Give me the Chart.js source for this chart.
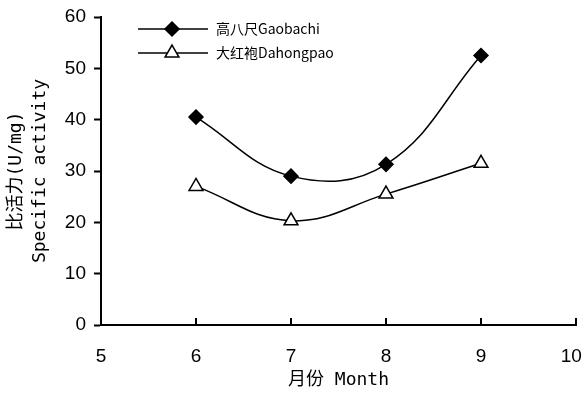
<!DOCTYPE html>
<html>
<head>
<meta charset="utf-8">
<script src="https://cdn.jsdelivr.net/npm/chart.js@4/dist/chart.umd.min.js"></script>
<style>
  html, body { margin: 0; padding: 0; background: #fff; overflow: hidden; }
  #wrap { width: 582px; height: 395px; }
</style>
</head>
<body>
<div id="wrap"><canvas id="chart"></canvas></div>
<script>
const months = [6, 7, 8, 9];
const gaobachi = [40.5, 29.0, 31.3, 52.5];
const dahongpao = [27.0, 20.3, 25.5, 31.5];
const seriesNames = ["高八尺Gaobachi", "大红袍Dahongpao"];
const xTicks = [5, 6, 7, 8, 9, 10];
const yTicks = [0, 10, 20, 30, 40, 50, 60];

const numFont = "'Liberation Sans Narrow', 'Liberation Sans', sans-serif";
const legendFont = "'Noto Sans CJK SC', 'Liberation Sans Narrow', sans-serif";
const titleFont = "'DejaVu Sans Mono', 'Noto Sans CJK SC', monospace";

function toPoints(values) {
  return months.map((m, i) => ({ x: m, y: values[i] }));
}

// inward ticks on the x axis and the little legend in the top-left corner
const extras = {
  id: "extras",
  afterDraw(chart) {
    const ctx = chart.ctx;
    const x = chart.scales.x;
    const y = chart.scales.y;
    ctx.save();
    ctx.strokeStyle = "#000";
    ctx.lineWidth = 2;
    xTicks.slice(1).forEach((v) => {
      const px = x.getPixelForValue(v);
      ctx.beginPath();
      ctx.moveTo(px, y.bottom);
      ctx.lineTo(px, y.bottom - 7);
      ctx.stroke();
    });

    chart.data.datasets.forEach((ds, i) => {
      const ly = 29 + i * 24;
      ctx.strokeStyle = "#000";
      ctx.lineWidth = 1.5;
      ctx.beginPath();
      ctx.moveTo(138, ly);
      ctx.lineTo(208, ly);
      ctx.stroke();
      ctx.fillStyle = ds.pointBackgroundColor;
      Chart.helpers.drawPoint(ctx, {
        pointStyle: ds.pointStyle,
        radius: ds.pointRadius,
        borderWidth: 1.5,
        rotation: 0,
      }, 172, ly);
      ctx.fillStyle = "#000";
      ctx.font = "14px " + legendFont;
      ctx.textBaseline = "middle";
      ctx.fillText(seriesNames[i], 216, ly);
    });
    ctx.restore();
  },
};

new Chart(document.getElementById("chart"), {
  type: "line",
  data: {
    datasets: [
      {
        label: seriesNames[0],
        data: toPoints(gaobachi),
        borderColor: "#000",
        borderWidth: 1.5,
        tension: 0.4,
        pointStyle: "rectRot",
        pointRadius: 7,
        pointBackgroundColor: "#000",
        pointBorderColor: "#000",
      },
      {
        label: seriesNames[1],
        data: toPoints(dahongpao),
        borderColor: "#000",
        borderWidth: 1.5,
        tension: 0.4,
        pointStyle: "triangle",
        pointRadius: 8,
        pointBackgroundColor: "#fff",
        pointBorderColor: "#000",
        pointBorderWidth: 1.5,
      },
    ],
  },
  options: {
    responsive: true,
    maintainAspectRatio: false,
    animation: false,
    layout: { autoPadding: false, padding: { left: 1, right: 6, top: 17, bottom: 0 } },
    plugins: {
      legend: { display: false },
      tooltip: { enabled: false },
    },
    scales: {
      x: {
        type: "linear",
        min: 5,
        max: 10,
        afterBuildTicks: (s) => { s.ticks = xTicks.map((v) => ({ value: v })); },
        afterFit: (s) => {
          s.height = 70;
          s.paddingLeft = 0;
          s.paddingRight = 0;
        },
        border: { color: "#000", width: 2 },
        grid: { display: false },
        ticks: {
          color: "#000",
          font: { family: numFont, size: 19 },
          padding: 12,
          // last label sits a little inside the frame, as in the source figure
          callback: (v) => (v === 10 ? "10\u2002" : String(v)),
        },
        title: {
          display: true,
          text: "月份 Month",
          color: "#000",
          font: { family: titleFont, size: 18 },
          padding: { top: 0, bottom: 4 },
        },
      },
      y: {
        min: 0,
        max: 60,
        afterBuildTicks: (s) => { s.ticks = yTicks.map((v) => ({ value: v })); },
        afterFit: (s) => {
          s.width = 100;
          s.paddingTop = 0;
          s.paddingBottom = 0;
        },
        border: { color: "#000", width: 2 },
        grid: {
          drawOnChartArea: false,
          drawTicks: true,
          tickLength: 7,
          tickColor: "#000",
          tickWidth: 2,
        },
        ticks: {
          color: "#000",
          font: { family: numFont, size: 19 },
          padding: 8,
        },
        title: {
          display: true,
          text: ["比活力(U/mg)", "Specific activity"],
          color: "#000",
          font: { family: titleFont, size: 18, lineHeight: 1.3 },
          padding: { top: 4, bottom: 0 },
        },
      },
    },
  },
  plugins: [extras],
});
</script>
</body>
</html>
